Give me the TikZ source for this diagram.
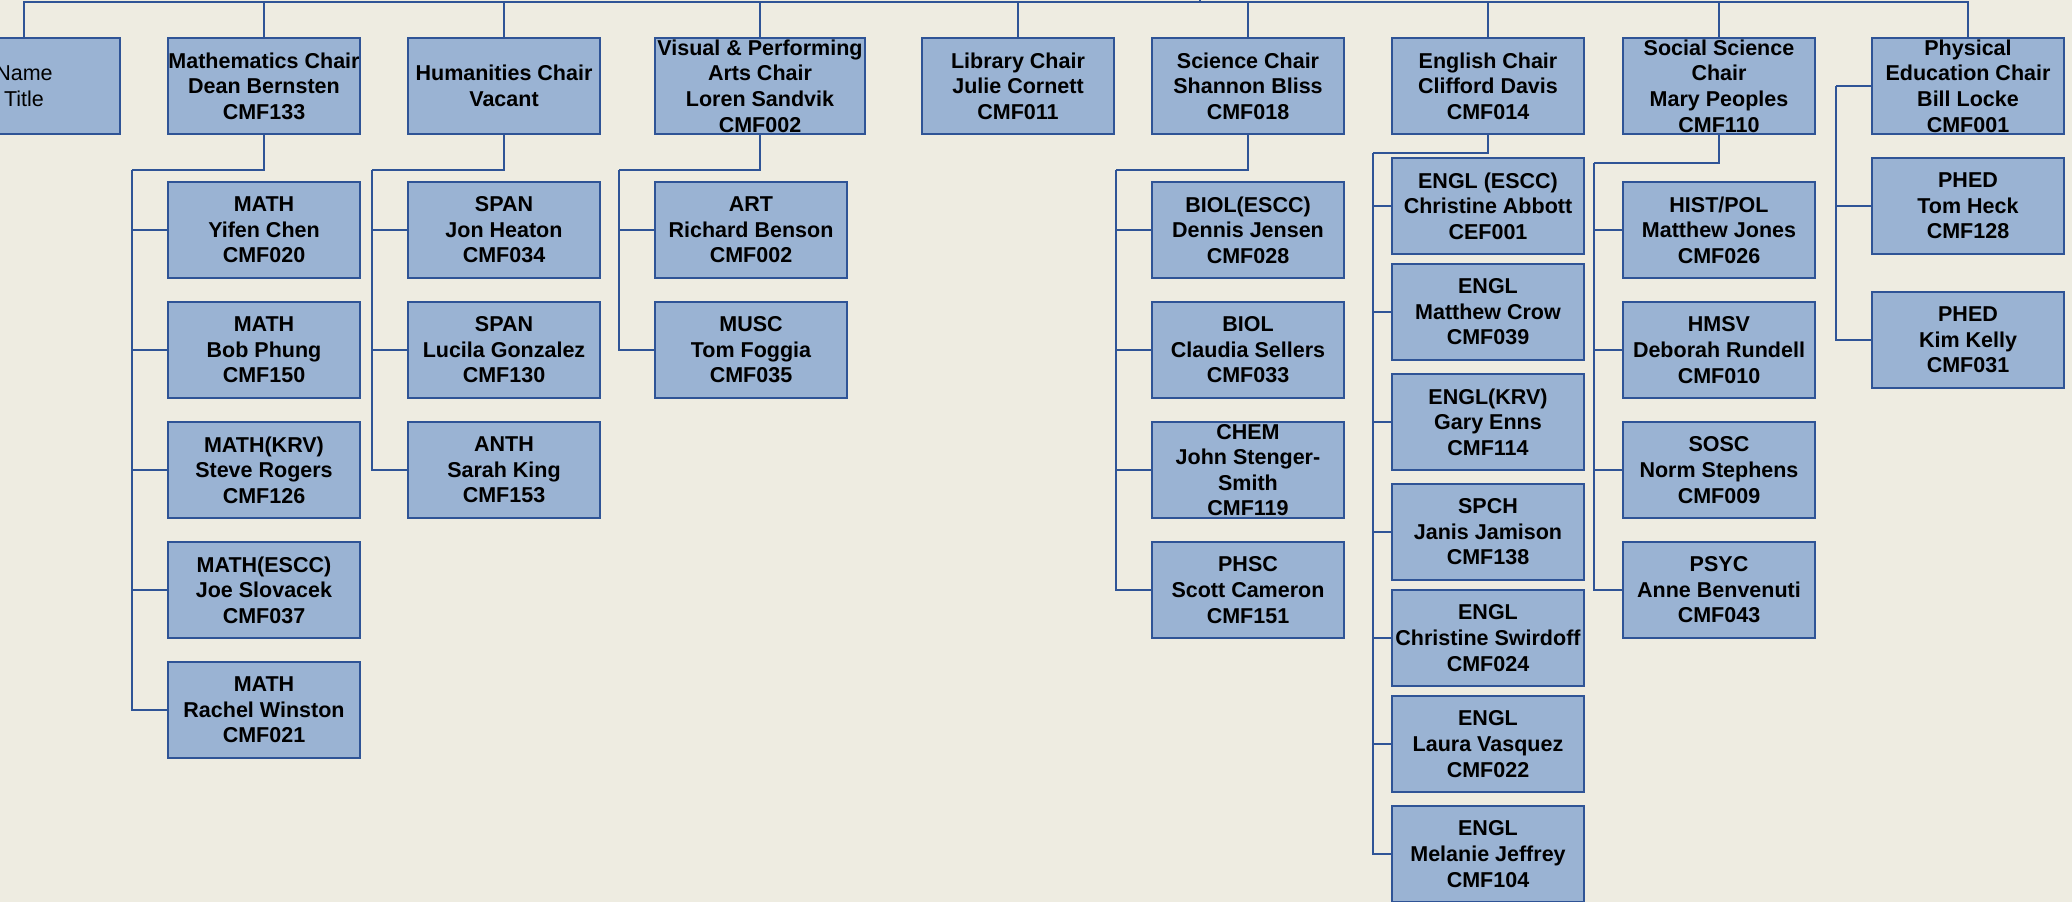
\documentclass[tikz,border=0pt]{standalone}
\usepackage{fontspec}
\setmainfont{Liberation Sans}
\definecolor{bg}{HTML}{EEECE1}
\definecolor{boxfill}{HTML}{9AB3D3}
\definecolor{boxline}{HTML}{2F5496}
\newcommand\ob[5]{\node[box,minimum width=#4pt] (#1) at (#2,#3) {};\node[txt] (#1t) at (#1.center) {#5};}
\begin{document}
\begin{tikzpicture}[x=1pt,y=-1pt,
  box/.style={draw=boxline, fill=boxfill, line width=2.5pt, minimum width=192pt, minimum height=96pt, inner sep=0pt, outer sep=0pt},
  txt/.style={align=center, font=\fontsize{21.5}{25.6}\selectfont\bfseries, text=black, inner sep=0pt},
  conn/.style={draw=boxline, line width=2.5pt}]
\fill[bg] (0,0) rectangle (2072,902);
\useasboundingbox (0,0) rectangle (2072,902);
\clip (0,0) rectangle (2072,902);
% chairs
\node[box] (name) at (24,86) {};
\node[txt,font=\fontsize{21.5}{25.6}\selectfont\mdseries] (namet) at (name.center) {Name\\Title};
\ob{math}{264}{86}{192}{Mathematics Chair\\Dean Bernsten\\CMF133}
\ob{hum}{504}{86}{192}{Humanities Chair\\Vacant}
\ob{vis}{760}{86}{210}{Visual \& Performing\\Arts Chair\\Loren Sandvik\\CMF002}
\ob{lib}{1018}{86}{192}{Library Chair\\Julie Cornett\\CMF011}
\ob{sci}{1248}{86}{192}{Science Chair\\Shannon Bliss\\CMF018}
\ob{eng}{1488}{86}{192}{English Chair\\Clifford Davis\\CMF014}
\ob{soc}{1719}{86}{192}{Social Science\\Chair\\Mary Peoples\\CMF110}
\ob{pe}{1968}{86}{192}{Physical\\Education Chair\\Bill Locke\\CMF001}
% math
\ob{m1}{264}{230}{192}{MATH\\Yifen Chen\\CMF020}
\ob{m2}{264}{350}{192}{MATH\\Bob Phung\\CMF150}
\ob{m3}{264}{470}{192}{MATH(KRV)\\Steve Rogers\\CMF126}
\ob{m4}{264}{590}{192}{MATH(ESCC)\\Joe Slovacek\\CMF037}
\ob{m5}{264}{710}{192}{MATH\\Rachel Winston\\CMF021}
% humanities
\ob{h1}{504}{230}{192}{SPAN\\Jon Heaton\\CMF034}
\ob{h2}{504}{350}{192}{SPAN\\Lucila Gonzalez\\CMF130}
\ob{h3}{504}{470}{192}{ANTH\\Sarah King\\CMF153}
% visual
\ob{v1}{751}{230}{192}{ART\\Richard Benson\\CMF002}
\ob{v2}{751}{350}{192}{MUSC\\Tom Foggia\\CMF035}
% science
\ob{s1}{1248}{230}{192}{BIOL(ESCC)\\Dennis Jensen\\CMF028}
\ob{s2}{1248}{350}{192}{BIOL\\Claudia Sellers\\CMF033}
\ob{s3}{1248}{470}{192}{CHEM\\John Stenger-\\Smith\\CMF119}
\ob{s4}{1248}{590}{192}{PHSC\\Scott Cameron\\CMF151}
% english
\ob{e1}{1488}{206}{192}{ENGL (ESCC)\\Christine Abbott\\CEF001}
\ob{e2}{1488}{312}{192}{ENGL\\Matthew Crow\\CMF039}
\ob{e3}{1488}{422}{192}{ENGL(KRV)\\Gary Enns\\CMF114}
\ob{e4}{1488}{532}{192}{SPCH\\Janis Jamison\\CMF138}
\ob{e5}{1488}{638}{192}{ENGL\\Christine Swirdoff\\CMF024}
\ob{e6}{1488}{744}{192}{ENGL\\Laura Vasquez\\CMF022}
\ob{e7}{1488}{854}{192}{ENGL\\Melanie Jeffrey\\CMF104}
% social
\ob{o1}{1719}{230}{192}{HIST/POL\\Matthew Jones\\CMF026}
\ob{o2}{1719}{350}{192}{HMSV\\Deborah Rundell\\CMF010}
\ob{o3}{1719}{470}{192}{SOSC\\Norm Stephens\\CMF009}
\ob{o4}{1719}{590}{192}{PSYC\\Anne Benvenuti\\CMF043}
% pe
\ob{p1}{1968}{206}{192}{PHED\\Tom Heck\\CMF128}
\ob{p2}{1968}{340}{192}{PHED\\Kim Kelly\\CMF031}
% top bus
\coordinate (root) at (1200,2);
\coordinate (rootup) at (1200,-4);
\draw[conn] (root) -- (rootup);
\foreach \c in {name,math,hum,vis,lib,sci,eng,soc,pe} {\draw[conn] (\c.north) |- (root);}
% branches
\coordinate (mb) at (132,170);
\draw[conn] (math.south) |- (mb);
\foreach \c in {m1,m2,m3,m4,m5} {\draw[conn] (mb) |- (\c.west);}
\coordinate (hb) at (372,170);
\draw[conn] (hum.south) |- (hb);
\foreach \c in {h1,h2,h3} {\draw[conn] (hb) |- (\c.west);}
\coordinate (vb) at (619,170);
\draw[conn] (vis.south) |- (vb);
\foreach \c in {v1,v2} {\draw[conn] (vb) |- (\c.west);}
\coordinate (sb) at (1116,170);
\draw[conn] (sci.south) |- (sb);
\foreach \c in {s1,s2,s3,s4} {\draw[conn] (sb) |- (\c.west);}
\coordinate (eb) at (1373,153);
\draw[conn] (eng.south) |- (eb);
\foreach \c in {e1,e2,e3,e4,e5,e6,e7} {\draw[conn] (eb) |- (\c.west);}
\coordinate (ob) at (1594,163);
\draw[conn] (soc.south) |- (ob);
\foreach \c in {o1,o2,o3,o4} {\draw[conn] (ob) |- (\c.west);}
\coordinate (pb) at (1836,86);
\draw[conn] (pe.west) -- (pb);
\foreach \c in {p1,p2} {\draw[conn] (pb) |- (\c.west);}
\end{tikzpicture}
\end{document}
